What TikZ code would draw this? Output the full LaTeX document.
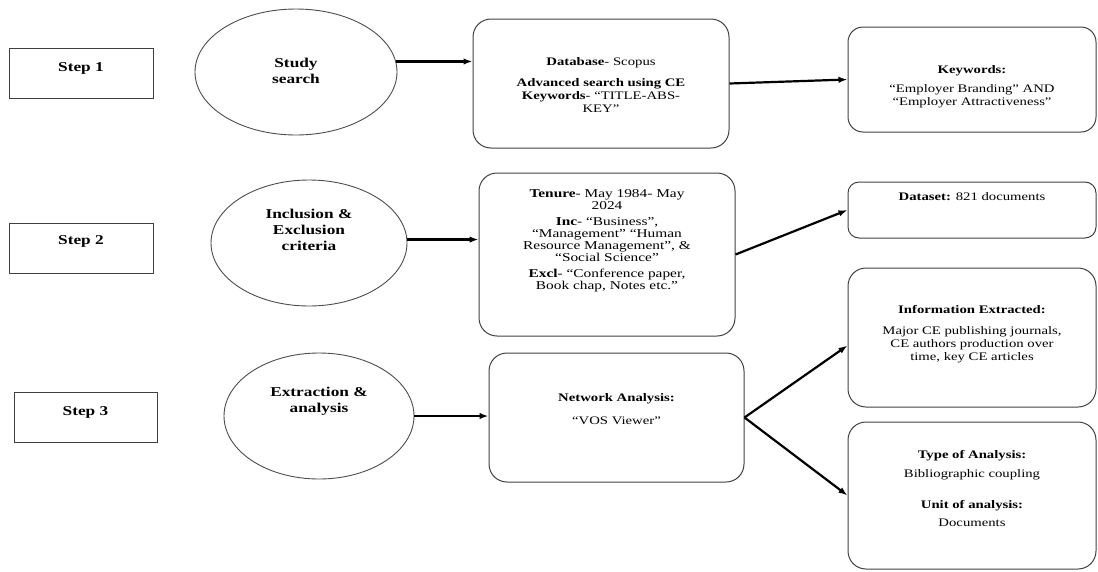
\documentclass[tikz,border=0pt]{standalone}
\usepackage{fontspec}
\setmainfont{Liberation Serif}[FakeStretch=1.28]
\usetikzlibrary{arrows.meta,positioning,shapes.geometric}

\begin{document}
\begin{tikzpicture}[x=1pt, y=-1pt, >={Latex[length=9pt,width=6.5pt]},
	stepbox/.style={draw=black!75, line width=1pt, inner sep=0pt},
	oval/.style={ellipse, draw=black!70, line width=0.9pt, inner sep=0pt},
	rbox/.style={draw=black!75, line width=1pt, rounded corners=18pt, inner sep=0pt},
	boldtext/.style={inner sep=0pt, align=center, font=\bfseries\fontsize{13.5}{16}\selectfont},
	boxtext/.style={inner sep=0pt, align=center, font=\fontsize{11.5}{13}\selectfont},
	arr/.style={->, line width=2.2pt}
]
	\useasboundingbox (0,0) rectangle (1098,571);

	% steps
	\node[stepbox, minimum width=144pt, minimum height=50pt] (step1) at (81,73) {};
	\node[stepbox, minimum width=144pt, minimum height=50pt] (step2) at (81,248) {};
	\node[stepbox, minimum width=143pt, minimum height=50pt] (step3) at (85.5,417) {};
	\node[boldtext, below=14.5pt of step1.north] (step1-text) {Step 1};
	\node[boldtext, below=12.5pt of step2.north] (step2-text) {Step 2};
	\node[boldtext, below=14.5pt of step3.north] (step3-text) {Step 3};

	% stages
	\node[oval, minimum width=202pt, minimum height=126pt] (study) at (296,72) {};
	\node[oval, minimum width=196pt, minimum height=126pt] (incl) at (309,243) {};
	\node[oval, minimum width=190pt, minimum height=126pt] (extr) at (319,416) {};
	\node[boldtext, below=49.5pt of study.north] (study-text) {Study\\search};
	\node[boldtext, below=29.5pt of incl.north] (incl-text) {Inclusion \&\\Exclusion\\criteria};
	\node[boldtext, below=34.5pt of extr.north] (extr-text) {Extraction \&\\analysis};

	% details
	\node[rbox, minimum width=256pt, minimum height=129pt] (db) at (601,83.5) {};
	\node[rbox, minimum width=248pt, minimum height=105pt, rounded corners=15pt] (kw) at (972,79.5) {};
	\node[rbox, minimum width=256pt, minimum height=163pt] (tenure) at (607,254.5) {};
	\node[rbox, minimum width=248pt, minimum height=56pt, rounded corners=11pt] (dataset) at (972,210) {};
	\node[rbox, minimum width=255pt, minimum height=129pt] (net) at (616.5,417.5) {};
	\node[rbox, minimum width=248pt, minimum height=139pt] (info) at (972,337.5) {};
	\node[rbox, minimum width=248pt, minimum height=147pt] (typebox) at (972,495.5) {};

	\node[boxtext, below=39pt of db.north] (db-text)
		{\textbf{Database}- Scopus\\[8pt]\textbf{Advanced search using CE}\\\textbf{Keywords}- “TITLE-ABS-\\KEY”};
	\node[boxtext, below=39pt of kw.north] (kw-text)
		{\textbf{Keywords:}\\[6pt]“Employer Branding” AND\\“Employer Attractiveness”};
	\node[boxtext, font=\fontsize{12}{12}\selectfont, below=17pt of tenure.north] (tenure-text)
		{\textbf{Tenure}- May 1984- May\\2024\\[4pt]\textbf{Inc}- “Business”,\\“Management” “Human\\Resource Management”, \&\\“Social Science”\\[4pt]\textbf{Excl}- “Conference paper,\\Book chap, Notes etc.”};
	\node[boxtext, below=11pt of dataset.north] (dataset-text)
		{\textbf{Dataset:} 821 documents};
	\node[boxtext, below=41pt of net.north] (net-text)
		{\textbf{Network Analysis:}\\[10pt]“VOS Viewer”};
	\node[boxtext, below=38pt of info.north] (info-text)
		{\textbf{Information Extracted:}\\[8pt]Major CE publishing journals,\\CE authors production over\\time, key CE articles};
	\node[boxtext, below=29pt of typebox.north] (typebox-text)
		{\textbf{Type of Analysis:}\\[6pt]Bibliographic coupling\\[18pt]\textbf{Unit of analysis:}\\[5pt]Documents};

	% flow
	\draw[arr] (study.6) -- (study.6 -| db.west);
	\draw[arr] (incl.2) -- (incl.2 -| tenure.west);
	\draw[arr] (extr.east) -- (extr.east -| net.west);
	\draw[arr] (db.east) -- (kw.west);
	\draw[arr] (tenure.east) -- (dataset.west);
	\draw[arr] (net.east) -- ([yshift=-8pt]info.west);
	\draw[arr] (net.east) -- (typebox.west);
\end{tikzpicture}
\end{document}
